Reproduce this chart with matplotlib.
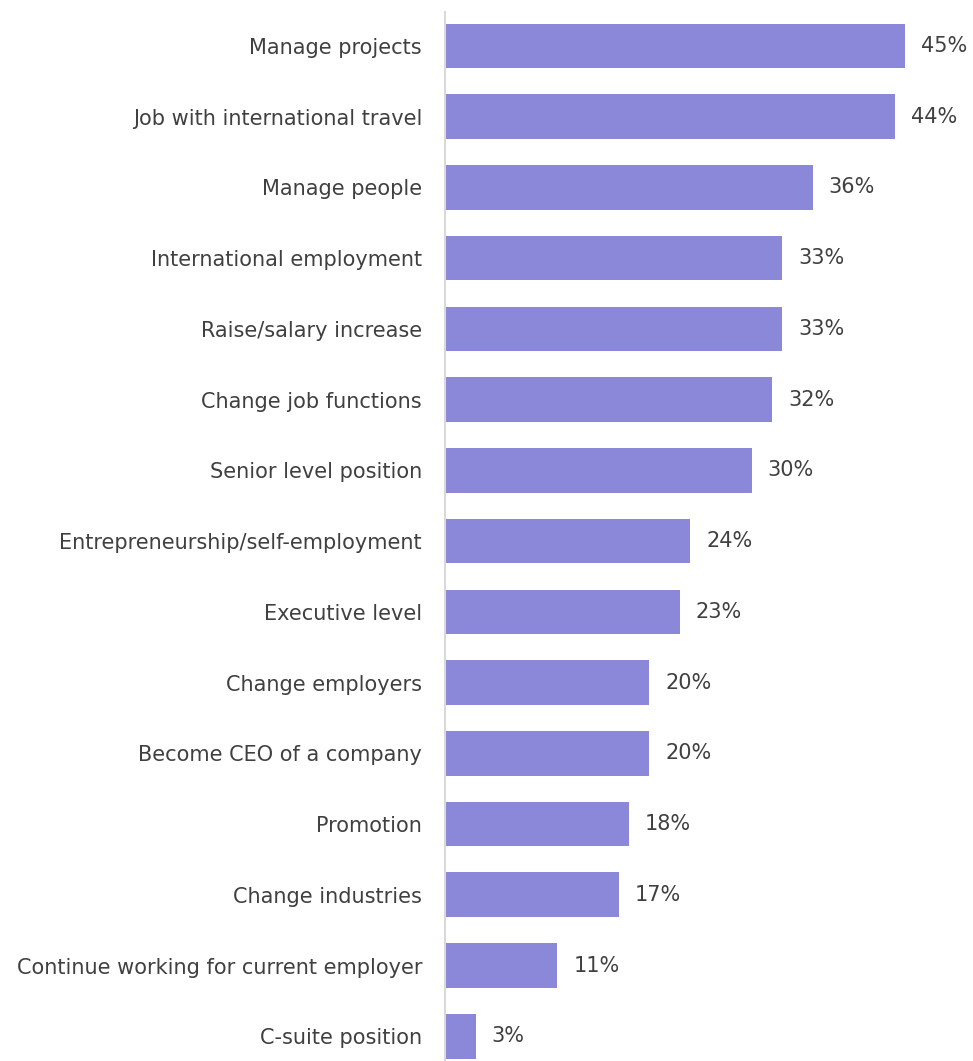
import matplotlib.pyplot as plt

# data
categories = [
    "Manage projects",
    "Job with international travel",
    "Manage people",
    "International employment",
    "Raise/salary increase",
    "Change job functions",
    "Senior level position",
    "Entrepreneurship/self-employment",
    "Executive level",
    "Change employers",
    "Become CEO of a company",
    "Promotion",
    "Change industries",
    "Continue working for current employer",
    "C-suite position",
]
values = [45, 44, 36, 33, 33, 32, 30, 24, 23, 20, 20, 18, 17, 11, 3]

bar_color = "#8b87d9"
text_color = "#404040"

fig = plt.figure(figsize=(9.73, 10.61), dpi=100)
ax = fig.add_axes([445 / 973, 0, 1 - 445 / 973, 1 - 12 / 1061])

y = list(range(len(categories)))
ax.barh(y, values, height=0.63, color=bar_color)

# value labels to the right of each bar
for yi, v in zip(y, values):
    ax.text(v + 1.55, yi, f"{v}%", va="center", ha="left",
            fontsize=15, color=text_color)

ax.set_xlim(0, 528 / (460 / 45))
ax.set_ylim(len(categories) - 1 + 0.35, -0.48)

ax.set_yticks(y)
ax.set_yticklabels(categories, fontsize=15, color=text_color)
ax.tick_params(axis="y", length=0, pad=16.5)
ax.set_xticks([])

for side in ["top", "right", "bottom"]:
    ax.spines[side].set_visible(False)
ax.spines["left"].set_color("#d9d9d9")
ax.spines["left"].set_linewidth(1.5)

fig.savefig("out.png", dpi=100)
